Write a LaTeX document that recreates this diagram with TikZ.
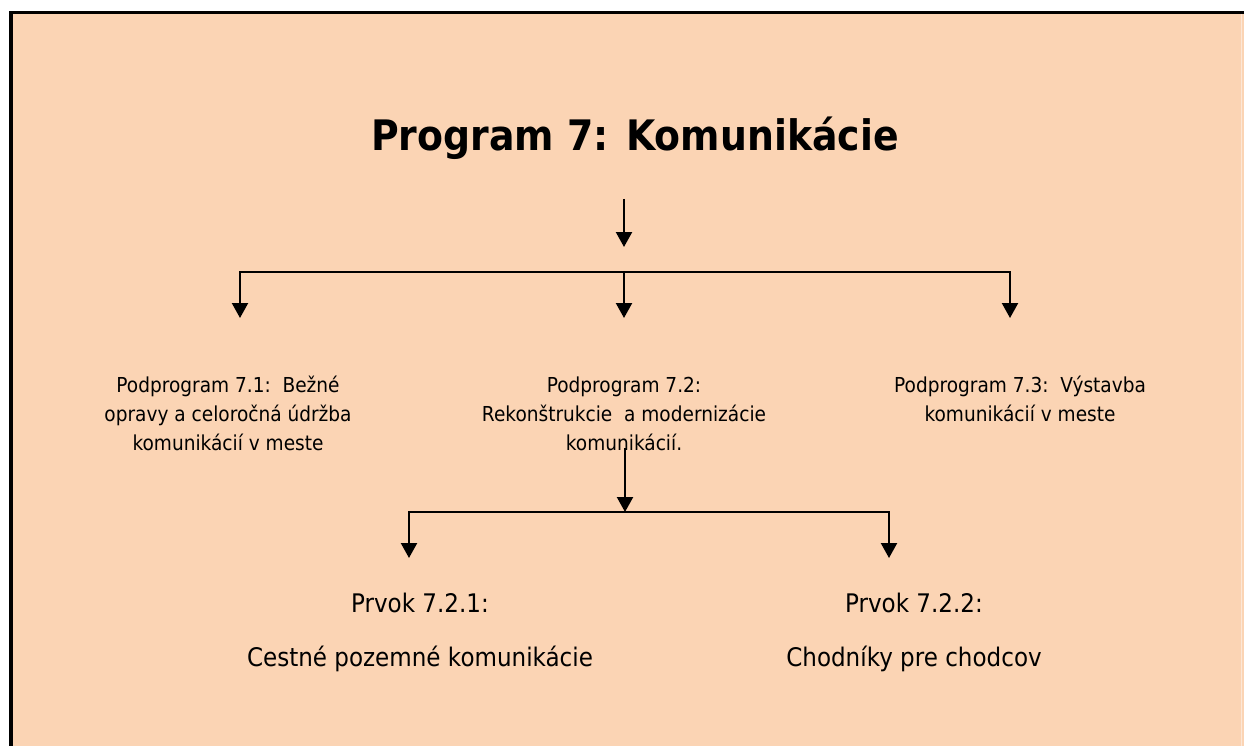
\documentclass[tikz,border=0pt]{standalone}
\usepackage{fontspec}
\setmainfont{DejaVu Sans}[FakeStretch=0.9]
\usetikzlibrary{arrows.meta}
\definecolor{peach}{HTML}{FBD4B4}

\begin{document}
\begin{tikzpicture}[x=1pt,y=-1pt,line width=2.2pt,>={Triangle[width=16pt,length=15pt]},
  heading/.style={font=\fontsize{42}{50}\selectfont\bfseries, anchor=base, inner sep=0pt},
  subprog/.style={font=\fontsize{20.6}{29}\selectfont, align=center, anchor=base, inner sep=0pt},
  element/.style={font=\fontsize{25.6}{54}\selectfont, align=center, anchor=base, inner sep=0pt}]
    \useasboundingbox (0,0) rectangle (1244,746);
    \fill[peach] (11,12.7) rectangle (1244,746);
    \draw[peach!55!white, line width=1pt] (1241,12.7) -- (1241,746);
    \draw[line width=3.4pt] (11,746) -- (11,12.7) -- (1244,12.7);
    \node [heading] (prog) at (635,151) {Program 7: Komunikácie};
    \node [subprog] (p71) at (228,450) {Podprogram 7.1:\ \ Bežné\\opravy a celoročná údržba\\komunikácií v meste};
    \node [subprog] (p72) at (624,450) {Podprogram 7.2:\\Rekonštrukcie\ \ a modernizácie\\komunikácií.};
    \node [subprog] (p73) at (1020,421) {Podprogram 7.3:\ \ Výstavba\\komunikácií v meste};
    \node [element] (e721) at (420,666) {Prvok 7.2.1:\\Cestné pozemné komunikácie};
    \node [element] (e722) at (914,666) {Prvok 7.2.2:\\Chodníky pre chodcov};
    \coordinate (top) at (624,199);
    \coordinate (topend) at (624,247);
    \coordinate (bus) at (624,272);
    \coordinate (to71) at (240,318);
    \coordinate (to72) at (624,318);
    \coordinate (to73) at (1010,318);
    \coordinate (mid) at (625,448);
    \coordinate (bus2) at (625,512);
    \coordinate (to721) at (409,558);
    \coordinate (to722) at (889,558);
    \draw[->] (top) -- (topend);
    \draw[->] (bus) -| (to71);
    \draw[->] (bus) -- (to72);
    \draw[->] (bus) -| (to73);
    \draw[->] (mid) -- (bus2);
    \draw[->] (bus2) -| (to721);
    \draw[->] (bus2) -| (to722);
\end{tikzpicture}
\end{document}
